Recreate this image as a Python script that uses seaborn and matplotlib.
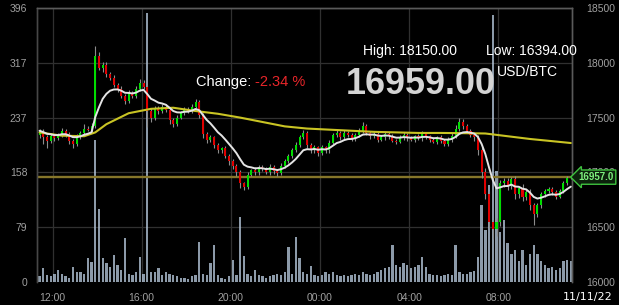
import numpy as np
import pandas as pd
import matplotlib
matplotlib.use("Agg")
import matplotlib.pyplot as plt
import seaborn as sns
from matplotlib import transforms

# ---------------- data ----------------
first_open = 17340
closes = [17380, 17320, 17290, 17330, 17310, 17340, 17380, 17350, 17290, 17260, 17320, 17360, 17400, 17390, 17420,
          18060,
          17950, 17980, 17900, 17860, 17800, 17760, 17700, 17650, 17720, 17700, 17760, 17820, 17780,
          17560, 17500, 17590, 17560, 17600, 17570, 17480, 17440, 17500, 17540, 17580, 17560, 17600, 17640, 17520,
          17350, 17300, 17320, 17250, 17200, 17220, 17150, 17100, 17060, 17000, 16900, 16870,
          16980, 17020, 17000, 17050, 17030, 17000, 17050, 17010, 16990, 17060, 17100, 17150, 17200, 17250, 17320, 17360,
          17250, 17200, 17230, 17180, 17230, 17200, 17270, 17340, 17360, 17320, 17360, 17340, 17310, 17340, 17380, 17420,
          17360, 17330, 17350, 17300, 17320, 17350, 17330, 17290, 17280, 17320, 17340, 17310, 17300, 17330, 17310, 17350,
          17330, 17300, 17280, 17320, 17290, 17260, 17300, 17330,
          17400, 17460, 17420, 17380, 17340, 17320,
          17200, 17000, 16800, 16550, 16480, 16550,
          16900, 16920, 16880, 16940, 16800, 16860, 16780, 16820, 16700, 16620, 16700, 16800, 16830, 16850, 16820,
          16780, 16830, 16900, 16950, 16959]
wick_hi = [20, 15, 25, 30, 15, 20, 25, 15, 20, 15, 30, 20, 40, 25, 30,
           90,
           40, 30, 25, 20, 30, 20, 25, 15, 30, 20, 25, 30, 20,
           20, 25, 20, 15, 25, 20, 15, 20, 25, 20, 15, 20, 25, 30, 20,
           20, 15, 20, 15, 20, 15, 20, 15, 20, 15, 20, 15,
           20, 15, 25, 20, 15, 20, 25, 15, 20, 25, 20, 15, 20, 25, 20, 30,
           20, 15, 20, 15, 20, 15, 25, 20, 25, 20, 30, 20, 15, 20, 25, 40,
           20, 15, 20, 15, 25, 20, 15, 20, 15, 20, 25, 15, 20, 15, 20, 25,
           20, 15, 20, 15, 20, 15, 20, 25,
           30, 36, 25, 20, 15, 20,
           20, 30, 40, 30, 20, 30,
           30, 25, 30, 20, 25, 20, 30, 20, 25, 20, 25, 20, 15, 20, 20,
           15, 20, 20, 15, 10]
wick_lo = [25, 60, 70, 20, 25, 15, 20, 25, 30, 40, 20, 15, 20, 15, 20,
           15,
           20, 30, 25, 20, 20, 25, 20, 30, 20, 25, 20, 15, 20,
           150, 40, 20, 25, 15, 20, 40, 30, 20, 15, 20, 15, 20, 15, 20,
           40, 30, 20, 25, 20, 25, 20, 30, 25, 30, 40, 30,
           20, 15, 20, 25, 20, 15, 20, 25, 20, 15, 20, 15, 20, 15, 20, 15,
           30, 25, 20, 30, 20, 25, 20, 15, 20, 25, 20, 15, 25, 20, 15, 20,
           20, 25, 15, 20, 15, 20, 25, 15, 20, 15, 20, 25, 15, 20, 15, 20,
           25, 20, 15, 20, 25, 20, 15, 20,
           15, 20, 20, 25, 20, 30,
           40, 50, 40, 60, 86, 60,
           40, 30, 40, 30, 40, 30, 40, 30, 40, 100, 30, 25, 20, 20, 25,
           20, 15, 20, 15, 10]
volumes = [8, 20, 10, 8, 12, 17, 12, 8, 6, 22, 14, 14, 12, 35, 29,
           205,
           105, 35, 27, 22, 39, 25, 18, 64, 12, 10, 15, 36, 12,
           389, 15, 14, 20, 10, 14, 12, 10, 8, 6, 6, 5, 8, 10, 58,
           12, 10, 27, 53, 10, 6, 5, 8, 32, 10, 94, 38,
           12, 8, 17, 10, 8, 6, 8, 10, 12, 10, 14, 51, 12, 65, 35, 14,
           12, 23, 10, 8, 10, 14, 12, 14, 10, 8, 10, 8, 10, 12, 10, 14,
           12, 10, 12, 14, 17, 20, 22, 53, 25, 22, 27, 25, 20, 22, 25, 36,
           22, 12, 10, 10, 8, 10, 12, 10,
           53, 14, 12, 12, 14, 16,
           36, 111, 75, 140, 386, 160,
           72, 90, 56, 40, 46, 30, 46, 25, 40, 53, 40, 30, 25, 20, 22,
           17, 20, 30, 32, 30]
# long moving average, read at selected bar indices
ma_long_idx = [0, 6, 12, 15, 18, 24, 30, 36, 42, 48, 54, 60, 66, 72, 78, 84, 90, 96, 102, 108, 114, 120, 126, 132, 138, 143]
ma_long_val = [17365, 17335, 17330, 17365, 17440, 17540, 17580, 17590, 17560, 17535, 17500, 17460, 17420, 17400,
               17390, 17380, 17370, 17365, 17360, 17360, 17358, 17355, 17330, 17305, 17285, 17268]

start_hour = 11 + 20 / 60          # first bar opens 11:20
bar_hours = 1 / 6                  # 10-minute candles
time_ticks = [12, 16, 20, 24, 28, 32]
time_labels = ["12:00", "16:00", "20:00", "00:00", "04:00", "08:00"]
vol_ticks = [0, 79.2, 158.4, 237.6, 316.8, 396]
vol_labels = ["0", "79", "158", "237", "317", "396"]
price_ticks = [16000, 16500, 17000, 17500, 18000, 18500]
price_labels = ["16000", "16500", "17000", "17500", "18000", "18500"]
last_price = 16959.00
tag_price = 16957.0
high_24h = 18150.00
low_24h = 16394.00
change_pct = -2.34
pair_label = "USD/BTC"
date_label = "11/11/22"

# ---------------- derived table ----------------
n = len(closes)
df = pd.DataFrame({
    "t": start_hour + (np.arange(n) + 0.5) * bar_hours,
    "open": [first_open] + closes[:-1],
    "close": closes,
    "volume": volumes,
})
df["high"] = np.maximum(df["open"], df["close"]) + np.array(wick_hi)
df["low"] = np.minimum(df["open"], df["close"]) - np.array(wick_lo)
df["ma_short"] = df["close"].ewm(span=9, adjust=False).mean()
ma_long = pd.DataFrame({"t": df["t"].values[ma_long_idx], "ma": ma_long_val})

# ---------------- style ----------------
sns.set_theme(style="dark")
plt.rcParams["font.family"] = ["Liberation Sans", "DejaVu Sans"]
W, H = 619, 305
fig = plt.figure(figsize=(W / 100, H / 100), dpi=100, facecolor="black")
L, R, T, B = 37, 572, 8, 282
axv = fig.add_axes([L / W, 1 - B / H, (R - L) / W, (B - T) / H])
axv.set_facecolor("black")
axp = axv.twinx()
axp.patch.set_visible(False)

# volume
axv.bar(df["t"], df["volume"], width=0.62 * bar_hours, color="#b4c6da", alpha=0.78,
        linewidth=0, zorder=2)
axv.set_ylim(0, 396)
axv.set_yticks(vol_ticks, vol_labels)
axv.set_xlim(start_hour - 0.03, start_hour - 0.03 + 24)
axv.set_xticks(time_ticks, time_labels)
axv.grid(True, color="#303030", linewidth=0.9)
axv.set_axisbelow(True)
axv.tick_params(axis="y", colors="#a0a0a0", labelsize=7.5, length=0, pad=7)
axv.tick_params(axis="x", colors="#a0a0a0", labelsize=7.5, length=0, pad=8)

# candles
up = df["close"] >= df["open"]
colors = np.where(up, "#00dd00", "#e00000")
axp.vlines(df["t"], df["low"], df["high"], color="#8c8c8c", linewidth=0.8, zorder=3)
body_h = np.maximum((df["close"] - df["open"]).abs(), 6)
axp.bar(df["t"], body_h, bottom=np.minimum(df["open"], df["close"]), width=0.55 * bar_hours,
        color=colors, linewidth=0, zorder=4)

# moving averages
sns.lineplot(data=ma_long, x="t", y="ma", ax=axp, color="#c9c424", linewidth=1.5, zorder=5)
sns.lineplot(data=df, x="t", y="ma_short", ax=axp, color="#e4e4e4", linewidth=1.4, zorder=6)

# last price line
axp.axhline(last_price, color="#86762a", linewidth=1.7, zorder=2)

axp.set_ylim(16000, 18500)
axp.set_yticks(price_ticks, price_labels)
axp.tick_params(axis="y", colors="#a0a0a0", labelsize=7.5, length=0, pad=10)
axp.set_xlabel("")
axp.set_ylabel("")
axv.set_xlabel("")
axv.set_ylabel("")

for a in (axv, axp):
    a.spines["bottom"].set_visible(False)
    a.spines["left"].set_color("#474747")
    a.spines["top"].set_color("#5a5a5a")
    a.spines["right"].set_color("#5a5a5a")
    for s in a.spines.values():
        s.set_linewidth(1.0)

# price tag on right axis (covers the 17000 label, as in the reference)
tr = transforms.blended_transform_factory(axp.transAxes, axp.transData)
axp.text(1.012, tag_price, f"{tag_price:.1f}", transform=tr, ha="left", va="center",
         fontsize=7, color="#7ef07e", fontweight="bold", zorder=10, clip_on=False,
         bbox=dict(boxstyle="larrow,pad=0.22", fc="#0c220c", ec="#3fc23f", lw=1.0))

# header texts
def fx(px):
    return px / W

def fy(py):
    return 1 - py / H

fig.text(fx(363), fy(51), f"High: {high_24h:.2f}", color="white", fontsize=10, va="center", ha="left")
fig.text(fx(486), fy(51), f"Low: {low_24h:.2f}", color="white", fontsize=10, va="center", ha="left")
fig.text(fx(497), fy(72), pair_label, color="white", fontsize=10, va="center", ha="left")
fig.text(fx(196), fy(82), "Change: ", color="white", fontsize=10.5, va="center", ha="left")
fig.text(fx(255), fy(82), f"{change_pct:.2f} %", color="#e8262a", fontsize=10.5, va="center", ha="left")
fig.text(fx(346), fy(84), f"{last_price:.2f}", color="#d4d4d4", fontsize=25.8, fontweight="bold",
         va="center", ha="left")
fig.text(fx(588), fy(297), date_label, color="white", fontsize=8, va="center", ha="center",
         family="DejaVu Sans")

fig.savefig("out.png", dpi=100, facecolor="black")
